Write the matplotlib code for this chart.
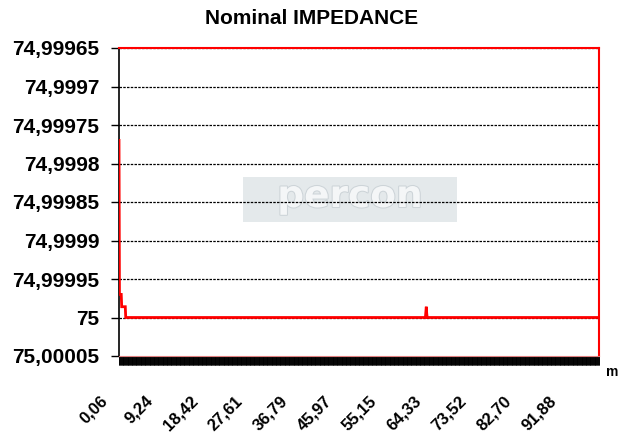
import numpy as np
import matplotlib
matplotlib.use("Agg")
import matplotlib.pyplot as plt
from matplotlib.transforms import ScaledTranslation, blended_transform_factory
from matplotlib.patches import Polygon
import matplotlib.patheffects as pe

plt.rcParams['font.family'] = ['Liberation Sans', 'DejaVu Sans']

# data: 1071 samples, nominal 75 ohm, only a few samples differ
n_points = 1071
baseline = 75.0
dev_idx = [0, 1, 2, 3, 4, 5, 6, 7, 8, 9, 10, 11, 12, 13, 14, 684, 685, 686]
dev_val = [74.99977, 74.99997, 74.99997, 74.99997, 74.99997, 74.99997,
           74.999986, 74.999986, 74.999986, 74.999986, 74.999986, 74.999986,
           74.999986, 74.999986, 74.999986, 74.999993, 74.999986, 74.999995]

x_label_idx = [0, 100, 200, 300, 400, 500, 600, 700, 800, 900, 1000]
x_labels = ['0,06', '9,24', '18,42', '27,61', '36,79', '45,97', '55,15',
            '64,33', '73,52', '82,70', '91,88']
y_ticks = [74.99965, 74.9997, 74.99975, 74.9998, 74.99985, 74.9999,
           74.99995, 75.0, 75.00005]
y_labels = ['74,99965', '74,9997', '74,99975', '74,9998', '74,99985',
            '74,9999', '74,99995', '75', '75,00005']

values = np.full(n_points, baseline)
values[dev_idx] = dev_val
idx = np.arange(n_points)

fig = plt.figure(figsize=(6.2, 4.37), dpi=100)
ax = fig.add_axes([119/620, 1-356/437, 480/620, 308/437])

ax.plot(idx, values, color='#ff0000', lw=2.0, solid_joinstyle='miter', zorder=3)
ax.set_xlim(0, n_points - 1)
ax.set_ylim(75.00005, 74.99965)

# grid
for v in y_ticks[:-1]:
    ax.axhline(v, color='black', lw=0.9, ls=(0, (2, 1)), zorder=2)

ax.set_yticks(y_ticks)
ax.set_yticklabels(y_labels, fontsize=15, fontweight='bold')
ax.tick_params(axis='y', length=6, width=1, pad=8, color='black')

# dense x ticks form a black band
ax.set_xticks([])
ax.set_xticks(idx, minor=True)
ax.tick_params(axis='x', which='minor', length=6.5, width=0.6, color='black')

ax.spines['left'].set_color('black')
ax.spines['left'].set_linewidth(1.2)
for s in ['top', 'right']:
    ax.spines[s].set_color('#ff0000')
    ax.spines[s].set_linewidth(1.5)
ax.spines['bottom'].set_color('#e08080')
ax.spines['bottom'].set_linewidth(0.8)

# rotated x labels
trans = blended_transform_factory(ax.transData, ax.transAxes)
off = ScaledTranslation(-19/100, -37/100, fig.dpi_scale_trans)
for i, lab in zip(x_label_idx, x_labels):
    ax.text(i, 0, lab, transform=trans + off, rotation=45, rotation_mode='anchor',
            ha='right', va='top', fontsize=12, fontweight='bold')

fig.text(606/620, 1-372/437, 'm', fontsize=10, fontweight='bold', va='center')
fig.text(312/620, 1-18/437, 'Nominal IMPEDANCE', fontsize=15, fontweight='bold',
         ha='center', va='center')

# watermark
wm = Polygon([(243/620, 1-177/437), (457/620, 1-177/437), (457/620, 1-222/437),
              (243/620, 1-222/437)], closed=True, transform=fig.transFigure,
             facecolor='#e4e9eb', edgecolor='none', zorder=1)
ax.add_patch(wm)
ax.text(350/620, 1-197/437, 'percon', transform=fig.transFigure, fontsize=27,
        fontweight='bold', family='DejaVu Sans', color='#f4f6f7', ha='center',
        va='center', zorder=1.5,
        path_effects=[pe.withStroke(linewidth=1.5, foreground='#cdd4d8')])

fig.savefig('out.png', dpi=100)
